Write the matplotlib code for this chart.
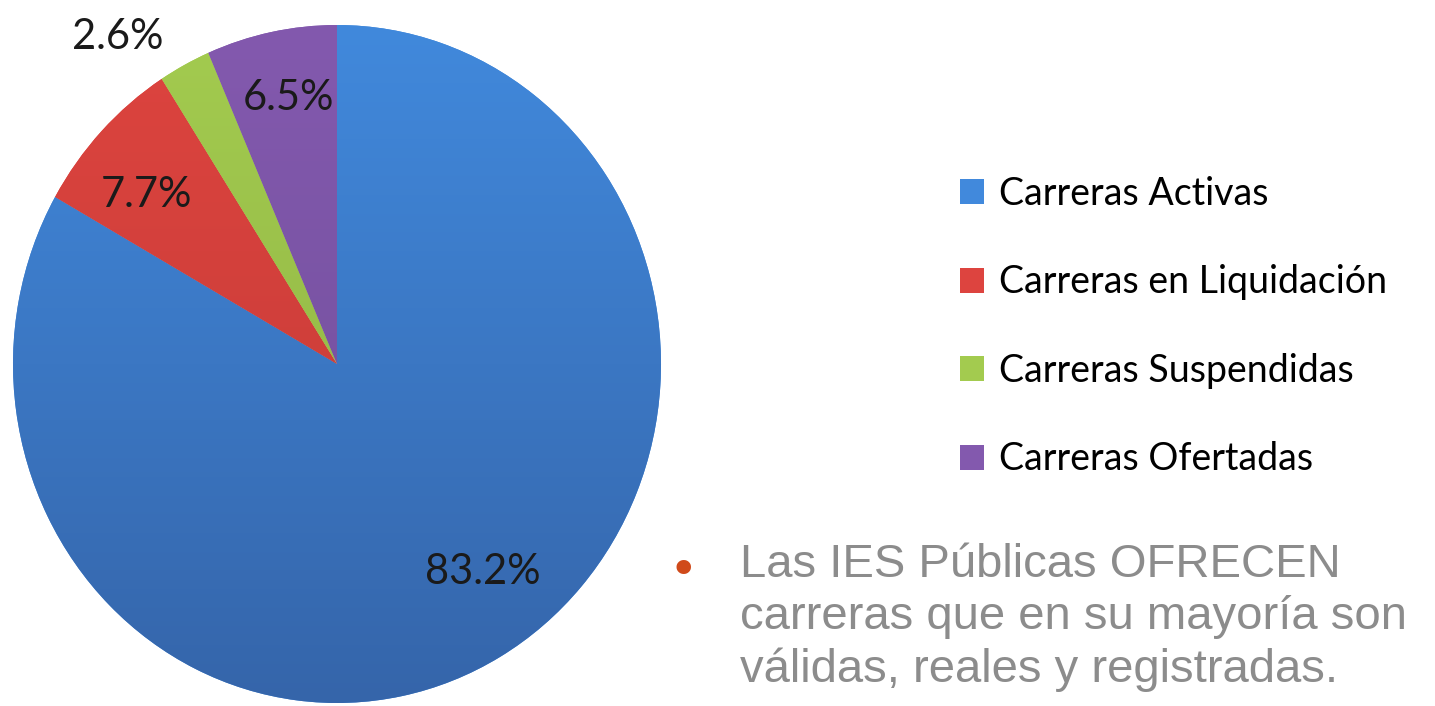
import matplotlib.pyplot as plt
import numpy as np
from matplotlib.colors import LinearSegmentedColormap

categorias = ["Carreras Activas", "Carreras en Liquidación",
              "Carreras Suspendidas", "Carreras Ofertadas"]
porcentajes = [83.2, 7.7, 2.6, 6.5]
etiquetas = ["83.2%", "7.7%", "2.6%", "6.5%"]

# top / bottom colours of each slice (soft vertical gradient like the original)
col_top = ["#4189DC", "#DD443F", "#A3CB4F", "#8359AE"]
col_bot = ["#3565AA", "#C23A36", "#8DB043", "#6F4E99"]
# label placement: (radial distance, angle offset in degrees)
lab_pos = [(0.76, 6), (0.77, 3), (1.18, 7), (0.80, -1)]

W, H = 1435, 706
fig = plt.figure(figsize=(W / 100, H / 100), dpi=100)
ax = fig.add_axes([13 / W, 3 / H, 648 / W, 678 / H])

wedges, _ = ax.pie(porcentajes, colors=col_top, startangle=90,
                   counterclock=False, radius=1.0,
                   wedgeprops=dict(linewidth=0))
ax.set_aspect("auto")
ax.set_xlim(-1, 1)
ax.set_ylim(-1, 1)

grad = np.linspace(1, 0, 256).reshape(-1, 1)
for w, ct, cb in zip(wedges, col_top, col_bot):
    cmap = LinearSegmentedColormap.from_list("g", [cb, ct])
    im = ax.imshow(grad, extent=(-1, 1, -1, 1), cmap=cmap, aspect="auto",
                   zorder=w.get_zorder() + 0.1, vmin=0, vmax=1)
    im.set_clip_path(w)

for w, lab, (r, dth) in zip(wedges, etiquetas, lab_pos):
    ang = np.deg2rad((w.theta1 + w.theta2) / 2 + dth)
    ax.text(r * np.cos(ang), r * np.sin(ang), lab, ha="center", va="center",
            fontsize=30, family="Lato", color="#1a1a1a", zorder=5,
            clip_on=False)

fig.legend(wedges, categorias, loc="upper left",
           bbox_to_anchor=(960 / W, 1 - 176 / H), frameon=False,
           prop=dict(family="Lato", size=27), handlelength=0.65,
           handleheight=0.65, handletextpad=0.4, labelspacing=1.4,
           borderpad=0, borderaxespad=0)

fig.text(683 / W, 1 - 571 / H, "\u2022", color="#D04A1A", fontsize=36,
         ha="center", va="center", family="DejaVu Sans")
fig.text(740 / W, 1 - 543 / H,
         "Las IES Públicas OFRECEN\ncarreras que en su mayoría son\nválidas, reales y registradas.",
         color="#8C8C8C", fontsize=34, family="Liberation Sans",
         ha="left", va="top", linespacing=1.24)

fig.savefig("out.png", dpi=100)
